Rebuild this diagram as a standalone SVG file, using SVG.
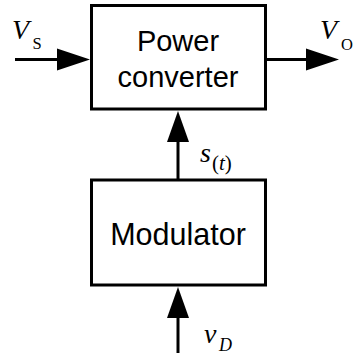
<svg xmlns="http://www.w3.org/2000/svg" width="354" height="358" viewBox="0 0 354 358">
<style>
.box{fill:#fff;stroke:#000;stroke-width:3}
.ln{stroke:#000;stroke-width:3;fill:none}
.ah{fill:#000;stroke:none}
.t{font-family:"Liberation Sans",Arial,sans-serif;fill:#000;text-anchor:middle}
.m{font-family:"Liberation Serif","Times New Roman",serif;fill:#000}
.i{font-style:italic}
</style>
<rect width="354" height="358" fill="#fff"/>
<g id="connectors">
<line class="ln" x1="15" y1="59.5" x2="60" y2="59.5"/>
<polygon class="ah" points="90,59.5 57,48.5 57,70.5"/>
<line class="ln" x1="266" y1="59.5" x2="310" y2="59.5"/>
<polygon class="ah" points="339,59.5 306,48.5 306,70.5"/>
<line class="ln" x1="178" y1="180" x2="178" y2="138"/>
<polygon class="ah" points="178,111 167,142 189,142"/>
<line class="ln" x1="178" y1="353" x2="178" y2="314"/>
<polygon class="ah" points="178,287 167,318 189,318"/>
</g>
<g id="power-converter">
<rect class="box" x="91.5" y="5.5" width="174" height="103.5"/>
<text class="t" x="178" y="51" font-size="29">Power</text>
<text class="t" x="178" y="87" font-size="29">converter</text>
</g>
<g id="modulator">
<rect class="box" x="91.5" y="180" width="174" height="105"/>
<text class="t" x="178" y="245" font-size="30.5">Modulator</text>
</g>
<g id="labels">
<text class="m" x="12" y="38.5" font-size="28"><tspan class="i">V</tspan></text>
<text class="m" x="32.5" y="49.3" font-size="16.5">S</text>
<text class="m" x="320" y="38.5" font-size="28"><tspan class="i">V</tspan></text>
<text class="m" x="341" y="50" font-size="16.5">O</text>
<text class="m" x="200" y="161.5" font-size="28"><tspan class="i">s</tspan></text>
<text class="m" x="212" y="170" font-size="21">(<tspan class="i">t</tspan>)</text>
<text class="m" x="204" y="343" font-size="28"><tspan class="i">v</tspan></text>
<text class="m" x="219" y="350.5" font-size="18"><tspan class="i">D</tspan></text>
</g>
</svg>
